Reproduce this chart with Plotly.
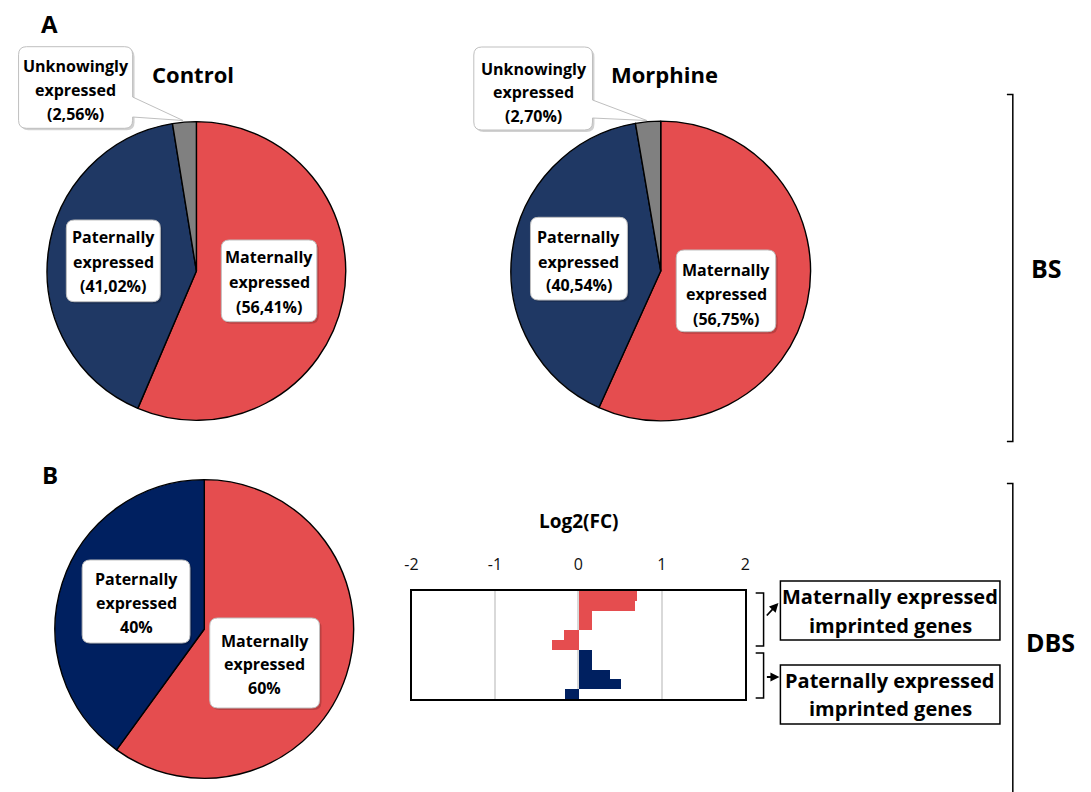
import plotly.graph_objects as go

# ---------------- data ----------------
pie_labels = ["Maternally expressed", "Paternally expressed", "Unknowingly expressed"]
control_pct = [56.41, 41.02, 2.56]
morphine_pct = [56.75, 40.54, 2.70]
dbs_labels = ["Maternally expressed", "Paternally expressed"]
dbs_pct = [60, 40]

maternal_genes = ["M1", "M2", "M3", "M4", "M5", "M6"]
maternal_fc = [0.70, 0.67, 0.16, 0.16, -0.18, -0.32]
paternal_genes = ["P1", "P2", "P3", "P4", "P5"]
paternal_fc = [0.16, 0.16, 0.37, 0.51, -0.17]
fc_ticks = [-2, -1, 0, 1, 2]

# ---------------- style ----------------
W, H = 1091, 792
RED = "#E54D4F"
NAVY_BS = "#1F3864"
NAVY_DBS = "#002060"
GRAY = "#808080"
FONT = "Open Sans"


def X(p):
    return p / W


def Y(p):
    return 1 - p / H


def fmt_pct(v, paren=True):
    s = (f"{v:.2f}".replace(".", ",") + "%")
    return f"({s})" if paren else s


fig = go.Figure()


def pie_domain(cx, cy, r):
    return dict(x=[X(cx - r), X(cx + r)], y=[Y(cy + r), Y(cy - r)])


def add_pie(values, labels, colors, cx, cy, r):
    fig.add_trace(go.Pie(
        values=values, labels=labels, sort=False, direction="clockwise",
        rotation=0, textinfo="none", hoverinfo="label+percent",
        marker=dict(colors=colors, line=dict(color="black", width=1.4)),
        domain=pie_domain(cx, cy, r), showlegend=False))


add_pie(control_pct, pie_labels, [RED, NAVY_BS, GRAY], 191.5, 271, 151)
add_pie(morphine_pct, pie_labels, [RED, NAVY_BS, GRAY], 661, 271, 151.5)
add_pie(dbs_pct, dbs_labels, [RED, NAVY_DBS], 199.5, 629, 151)

# ---------------- bar chart ----------------
fig.add_trace(go.Bar(x=maternal_fc, y=maternal_genes, orientation="h",
                     marker=dict(color=RED, line=dict(width=0)),
                     xaxis="x", yaxis="y", showlegend=False))
fig.add_trace(go.Bar(x=paternal_fc, y=paternal_genes, orientation="h",
                     marker=dict(color=NAVY_DBS, line=dict(width=0)),
                     xaxis="x", yaxis="y", showlegend=False))

shapes = []
annotations = []


def rrect_path(x0, y0, x1, y1, r, tail=None):
    # tail = (ya, yb, tipx, tipy) on right edge
    p = f"M {X(x0 + r)},{Y(y0)} L {X(x1 - r)},{Y(y0)} Q {X(x1)},{Y(y0)} {X(x1)},{Y(y0 + r)} "
    if tail:
        ya, yb, tx, ty = tail
        p += f"L {X(x1)},{Y(ya)} L {X(tx)},{Y(ty)} L {X(x1)},{Y(yb)} "
    p += f"L {X(x1)},{Y(y1 - r)} Q {X(x1)},{Y(y1)} {X(x1 - r)},{Y(y1)} "
    p += f"L {X(x0 + r)},{Y(y1)} Q {X(x0)},{Y(y1)} {X(x0)},{Y(y1 - r)} "
    p += f"L {X(x0)},{Y(y0 + r)} Q {X(x0)},{Y(y0)} {X(x0 + r)},{Y(y0)} Z"
    return p


def label_box(lines, box, line_ys, cx, size=16, tail=None):
    x0, y0, x1, y1 = box
    # soft shadow
    shapes.append(dict(type="path", xref="paper", yref="paper", layer="above",
                       path=rrect_path(x0 + 2, y0 + 2, x1 + 2, y1 + 2, 8),
                       fillcolor="rgba(0,0,0,0.18)", line=dict(width=0)))
    shapes.append(dict(type="path", xref="paper", yref="paper", layer="above",
                       path=rrect_path(x0, y0, x1, y1, 8, tail),
                       fillcolor="white", line=dict(color="#BFBFBF", width=1)))
    for t, yy in zip(lines, line_ys):
        annotations.append(dict(text=f"<b>{t}</b>", x=X(cx), y=Y(yy), xref="paper", yref="paper",
                                showarrow=False, xanchor="center", yanchor="middle",
                                font=dict(family=FONT, size=size, color="black")))


def split_label(lbl):
    a, b = lbl.split(" ")
    return a, b


# Control
m1, m2 = split_label(pie_labels[0])
p1, p2 = split_label(pie_labels[1])
u1, u2 = split_label(pie_labels[2])
label_box([m1, m2, fmt_pct(control_pct[0])], (216.7, 240, 313.3, 321.7), [257, 282, 307], 265)
label_box([p1, p2, fmt_pct(control_pct[1])], (60, 220, 155, 301.7), [237, 262, 286], 107.5)
label_box([u1, u2, fmt_pct(control_pct[2])], (11.7, 46.7, 127, 128.3), [66, 90, 114], 69.3,
          tail=(97, 117, 178, 120.5))
# Morphine
label_box([p1, p2, fmt_pct(morphine_pct[1])], (529.3, 217.3, 627.3, 300), [237, 261.5, 285], 578.3)
label_box([m1, m2, fmt_pct(morphine_pct[0])], (676.7, 250, 777.3, 331.7), [270.5, 294, 318.5], 727)
label_box([u1, u2, fmt_pct(morphine_pct[2])], (472, 47, 592, 130), [69, 92.5, 115.5], 532.5,
          tail=(100, 118, 647, 120.5))
# DBS pie
label_box([p1, p2, f"{dbs_pct[1]}%"], (76, 560, 185, 643), [578.5, 603, 627], 130.5)
label_box([m1, m2, f"{dbs_pct[0]}%"], (205, 618, 316, 708), [640.5, 664, 688], 260.5)


def text(t, x, y, size, bold=True):
    annotations.append(dict(text=(f"<b>{t}</b>" if bold else t), x=X(x), y=Y(y), xref="paper",
                            yref="paper", showarrow=False, xanchor="center", yanchor="middle",
                            font=dict(family=FONT, size=size, color="black")))


text("A", 42.5, 24, 24)
text("B", 43, 474, 24)
text("Control", 188, 74, 22)
text("Morphine", 665, 74, 22)
text("BS", 1051, 268, 25)
text("DBS", 1055, 642, 25)
text("Log2(FC)", 578, 521, 19)

# right boxes
for (y0, y1, ys, l1, l2) in [(581, 640, (596.5, 625), "Maternally expressed", "imprinted genes"),
                             (665, 724, (680.5, 708.5), "Paternally expressed", "imprinted genes")]:
    shapes.append(dict(type="rect", xref="paper", yref="paper", x0=X(782), x1=X(1004),
                       y0=Y(y1), y1=Y(y0), line=dict(color="black", width=1.5), fillcolor="white"))
    text(l1, 893, ys[0], 20)
    text(l2, 893, ys[1], 20)

# brackets
def bracket(xh, xv, ya, yb):
    shapes.append(dict(type="path", xref="paper", yref="paper",
                       path=f"M {X(xh)},{Y(ya)} L {X(xv)},{Y(ya)} L {X(xv)},{Y(yb)} L {X(xh)},{Y(yb)}",
                       line=dict(color="black", width=1.5)))


bracket(757, 765, 593, 646)
bracket(757, 765, 653, 698)
bracket(1011, 1017, 94.5, 441.5)
bracket(1011, 1017, 483.5, 830)

annotations.append(dict(x=X(780), y=Y(603), xref="paper", yref="paper", ax=-13, ay=14,
                        showarrow=True, arrowhead=2, arrowsize=1, arrowwidth=1.8, arrowcolor="black", text=""))
annotations.append(dict(x=X(781), y=Y(677), xref="paper", yref="paper", ax=-14, ay=0,
                        showarrow=True, arrowhead=2, arrowsize=1, arrowwidth=1.8, arrowcolor="black", text=""))

fig.update_layout(
    autosize=True, margin=dict(l=0, r=0, t=0, b=0),
    paper_bgcolor="white", plot_bgcolor="white",
    barmode="overlay", bargap=0,
    font=dict(family=FONT, color="black"),
    xaxis=dict(domain=[X(409), X(746.5)], range=[-2, 2], side="top", tickvals=fc_ticks,
               ticktext=[str(t) for t in fc_ticks], showgrid=True, gridcolor="#D9D9D9", gridwidth=1.5,
               zeroline=False, showline=True, linecolor="black", linewidth=1.5, mirror=True,
               ticks="", ticklabelstandoff=13, tickfont=dict(family=FONT, size=16, color="#111"),
               fixedrange=True),
    yaxis=dict(domain=[Y(699), Y(591)], autorange="reversed", showticklabels=False, showgrid=False,
               zeroline=False, showline=True, linecolor="black", linewidth=1.5, mirror=True,
               ticks="", fixedrange=True),
    shapes=shapes, annotations=annotations,
)

fig.write_html("out.html", default_width="100vw", default_height="100vh",
               config={"displayModeBar": False},
               post_script="document.body.style.margin='0';document.body.style.overflow='hidden';")
